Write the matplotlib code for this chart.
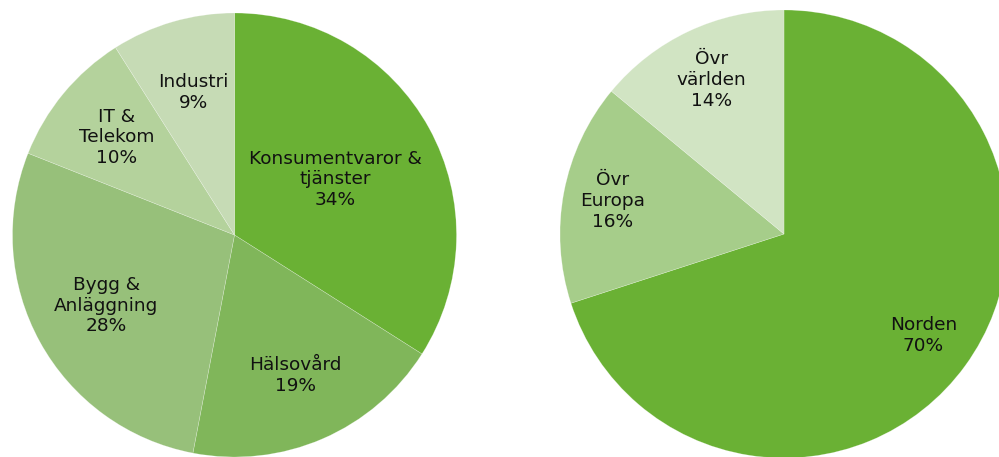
import numpy as np
import matplotlib.pyplot as plt

# sector split (left) and geographic split (right), in percent
sectors = ["Konsumentvaror &\ntjänster", "Hälsovård", "Bygg &\nAnläggning",
           "IT &\nTelekom", "Industri"]
sector_pct = [34, 19, 28, 10, 9]
sector_colors = ["#6ab134", "#80b65a", "#97c07a", "#b4d29c", "#c6dbb5"]
sector_label_r = [0.52, 0.69, 0.66, 0.69, 0.67]

regions = ["Norden", "Övr\nEuropa", "Övr\nvärlden"]
region_pct = [70, 16, 14]
region_colors = ["#6ab134", "#a6cd8a", "#d1e4c3"]
region_label_r = [0.77, 0.78, 0.76]

W, H = 999, 457
fig = plt.figure(figsize=(W / 100, H / 100), dpi=100)
fig.patch.set_facecolor("white")


def draw_pie(rect, values, labels, colors, label_r):
    ax = fig.add_axes(rect)
    wedges, _ = ax.pie(values, colors=colors, startangle=90, counterclock=False,
                       radius=1, wedgeprops=dict(linewidth=0.4, edgecolor=(1, 1, 1, 0.35)))
    ax.set_xlim(-1, 1)
    ax.set_ylim(-1, 1)
    ax.set_aspect("equal")
    ax.axis("off")
    for w, lab, v, r in zip(wedges, labels, values, label_r):
        mid = np.deg2rad((w.theta1 + w.theta2) / 2)
        ax.text(r * np.cos(mid), r * np.sin(mid), f"{lab}\n{v}%",
                ha="center", va="center", fontsize=13.3, color="#111111",
                linespacing=1.2, family="DejaVu Sans")
    return ax


# left pie: center (234.5, 235), radius 222 px
draw_pie([12.5 / W, 0.0, 444 / W, 444 / H], sector_pct, sectors, sector_colors, sector_label_r)
# right pie: center (784, 234), radius 224 px
draw_pie([560 / W, (H - 458) / H, 448 / W, 448 / H], region_pct, regions, region_colors, region_label_r)

fig.savefig("out.png", dpi=100, facecolor="white")
